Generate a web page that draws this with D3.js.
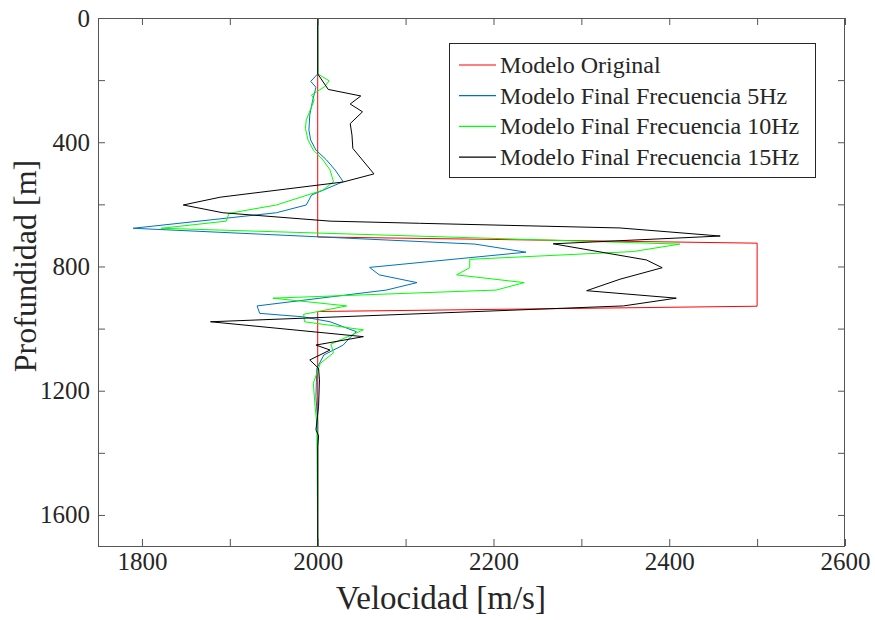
<!DOCTYPE html>
<html>
<head>
<meta charset="utf-8">
<script src="https://cdn.jsdelivr.net/npm/d3@7"></script>
<style>
body{margin:0;background:#fff;}
svg text{font-family:"Liberation Serif","DejaVu Serif",serif;fill:#262626;}
</style>
</head>
<body>
<div id="chart"></div>
<script>
// perfil de velocidad

var w=875,h=620;
var m={l:98,r:30,t:18,b:74};

// datos

var xTicks=d3.range(1800,2601,100);
var yTicks=d3.range(0,1601,200);
var xLabels=[1800,2000,2200,2400,2600];
var yLabels=[0,400,800,1200,1600];

var nombres=["Modelo Original","Modelo Final Frecuencia 5Hz","Modelo Final Frecuencia 10Hz","Modelo Final Frecuencia 15Hz"];
var colores=["#ff0000","#0072bd","#00ff00","#000000"];

var profOrig=[0,705,725,928,945,1700];
var velOrig=[2000,2000,2500,2500,2000,2000];

var prof5=[0,180,204,223,269,312,361,393,425,457,490,527,570,602,627,677,728,754,803,827,852,876,927,951,962,978,1010,1028,1053,1085,1128,1219,1300,1700];
var vel5=[2000,2000,1992,1998,1994,1991,1990,1992,1998,2010,2020,2029,1993,1987,1953,1790,2179,2237,2059,2070,2113,2078,1931,1934,1983,2014,2044,2037,2029,2007,1999,1998,2000,2000];

var prof10=[0,180,202,221,248,264,286,328,355,393,425,457,489,527,554,602,629,654,677,728,752,777,804,827,852,876,902,927,954,978,1004,1050,1078,1112,1176,1250,1305,1700];
var vel10=[2000,2000,2013,2008,1993,1996,1993,1987,1986,1989,1995,2006,2014,2018,2006,1953,1899,1896,1822,2412,2359,2173,2173,2158,2235,2203,1949,2033,1984,1985,2052,2015,2018,2003,1995,1997,1999,2000];

var prof15=[0,180,230,251,277,302,340,377,420,502,528,577,602,627,654,661,676,702,727,779,804,841,878,902,927,978,1026,1053,1069,1101,1128,1165,1250,1326,1345,1380,1700];
var vel15=[2000,2000,2012,2049,2037,2051,2037,2039,2040,2064,2029,1889,1847,1892,2014,2116,2344,2458,2268,2374,2392,2344,2306,2408,2348,1878,2052,1998,2014,1991,2001,2002,2001,1998,2001,2000,2000];

var series=[[profOrig,velOrig],[prof5,vel5],[prof10,vel10],[prof15,vel15]].map(function(s,i){
	return {name:nombres[i],color:colores[i],pts:s[0].map(function(d,j){return {d:d,v:s[1][j]};})};
});

// escalas

var x=d3.scaleLinear().domain([1750,2600]).range([m.l,w-m.r]);
var y=d3.scaleLinear().domain([0,1700]).range([m.t,h-m.b]);

var svg=d3.select("#chart").append("svg").attr("width",w).attr("height",h);

// lineas

var line=d3.line().x(function(p){return x(p.v);}).y(function(p){return y(p.d);});
svg.selectAll(".serie").data(series).enter().append("path")
	.attr("d",function(s){return line(s.pts);})
	.style("fill","none")
	.style("stroke",function(s){return s.color;})
	.style("stroke-width",1);

// ejes

var ax="#555";
function fmt(lbls){return function(d){return lbls.indexOf(d)>=0?d:"";};}

var gx=svg.append("g").attr("transform","translate(0,"+(h-m.b)+")")
	.call(d3.axisBottom(x).tickValues(xTicks).tickSize(-7).tickPadding(6).tickFormat(fmt(xLabels)));
var gy=svg.append("g").attr("transform","translate("+m.l+",0)")
	.call(d3.axisLeft(y).tickValues(yTicks).tickSize(-7).tickPadding(8).tickFormat(fmt(yLabels)));
var gt=svg.append("g").attr("transform","translate(0,"+m.t+")")
	.call(d3.axisTop(x).tickValues(xTicks).tickSize(-7).tickFormat(""));
var gr=svg.append("g").attr("transform","translate("+(w-m.r)+",0)")
	.call(d3.axisRight(y).tickValues(yTicks).tickSize(-7).tickFormat(""));

[gx,gy,gt,gr].forEach(function(g){
	g.attr("font-family",null);
	g.select(".domain").remove();
	g.selectAll("line").style("stroke",ax);
	g.selectAll("text").style("font-size","25px").style("fill","#262626");
});

svg.append("rect")
	.attr("x",m.l+0.5).attr("y",m.t+0.5)
	.attr("width",w-m.r-m.l-1).attr("height",h-m.b-m.t)
	.style("fill","none").style("stroke",ax).style("stroke-width",1);

// titulos de ejes

svg.append("text").attr("x",441).attr("y",609).attr("text-anchor","middle")
	.style("font-size","33px").text("Velocidad [m/s]");
svg.append("text").attr("transform","translate(36,266) rotate(-90)").attr("text-anchor","middle")
	.style("font-size","32px").text("Profundidad [m]");

// leyenda

var lg=svg.append("g");
lg.append("rect").attr("x",449.5).attr("y",43.5).attr("width",366).attr("height",134)
	.style("fill","#fff").style("stroke","#262626").style("stroke-width",1);
var items=lg.selectAll(".item").data(series).enter().append("g")
	.attr("transform",function(s,i){return "translate(0,"+(65+i*30.7)+")";});
items.append("line").attr("x1",459).attr("x2",496).attr("y1",0).attr("y2",0)
	.style("stroke",function(s){return s.color;}).style("stroke-width",1.2);
items.append("text").attr("x",500).attr("y",0).attr("dy","0.33em")
	.style("font-size","24px").text(function(s){return s.name;});
</script>
</body>
</html>
